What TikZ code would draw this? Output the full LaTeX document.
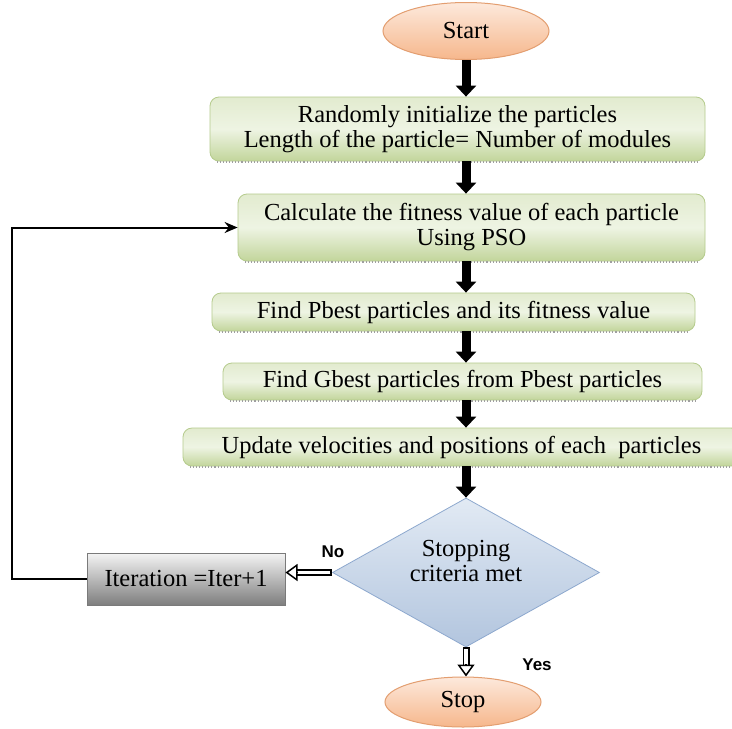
\documentclass[tikz,border=0pt]{standalone}
\usepackage{fontspec}
\setmainfont{Liberation Serif}
\newfontfamily\lsans{Liberation Sans}
\usetikzlibrary{shapes.geometric,arrows.meta,calc}
\definecolor{peachT}{HTML}{FDE9DC}
\definecolor{peachB}{HTML}{F6B78C}
\definecolor{peachD}{HTML}{E39E70}
\definecolor{grnT}{HTML}{E2EBCF}
\definecolor{grnM}{HTML}{EEF4E3}
\definecolor{grnB}{HTML}{C2D59B}
\definecolor{grnD}{HTML}{B5CB8C}
\definecolor{bluT}{HTML}{E2EAF4}
\definecolor{bluB}{HTML}{B2C5DE}
\definecolor{bluD}{HTML}{8DA8CE}
\definecolor{gryT}{HTML}{F4F4F4}
\definecolor{gryB}{HTML}{7E7E7E}
\definecolor{gryD}{HTML}{7A7A7A}
\tikzset{
  txt/.style={font=\fontsize{24.5}{25}\selectfont, align=center},
  oval/.style={ellipse, draw=peachD, line width=1pt, top color=peachT, bottom color=peachB, inner sep=0pt, txt},
  gbox/.style={rectangle, rounded corners=9pt, draw=grnD, line width=0.8pt, top color=grnT, bottom color=grnB, middle color=grnM, inner sep=0pt, txt},
  dec/.style={diamond, draw=bluD, line width=0.8pt, top color=bluT, bottom color=bluB, inner sep=0pt},
  ibox/.style={rectangle, draw=gryD, line width=1pt, top color=gryT, bottom color=gryB, inner sep=0pt, txt},
  blk/.style={line width=9pt, -{Triangle[width=20pt,length=11pt]}},
  thinarr/.style={line width=2pt, -{Stealth[length=13pt,width=11pt]}},
  lbl/.style={font=\lsans\bfseries\fontsize{17}{18}\selectfont},
  shad/.style={gray!75, dotted, line width=1.1pt}
}
\newcommand\hollowarr[2]{%
  \draw[line width=7pt, shorten >=11pt] (#1) -- (#2);
  \draw[line width=3.4pt, white, shorten >=10pt, shorten <=1.8pt] (#1) -- (#2);
  \draw[line width=1.5pt, -{Triangle[length=12pt,width=17pt,fill=white]}] ($(#2)!12.5pt!(#1)$) -- (#2);
}
\begin{document}
\begin{tikzpicture}[x=1pt,y=-1pt]
\useasboundingbox[fill=white] (0,0) rectangle (732,729);
% nodes
\node[oval, minimum width=166pt, minimum height=57pt] (start) at (466,31) {Start};
\node[gbox, minimum width=495pt, minimum height=64pt] (b1) at (457.5,129) {Randomly initialize the particles\\Length of the particle= Number of modules};
\node[gbox, minimum width=467pt, minimum height=67pt] (b2) at (471.5,227.5) {Calculate the fitness value of each particle\\Using PSO};
\node[gbox, minimum width=483pt, minimum height=38pt] (b3) at (453.5,312) {Find Pbest particles and its fitness value};
\node[gbox, minimum width=479pt, minimum height=37pt] (b4) at (462.5,381.5) {Find Gbest particles from Pbest particles};
\node[gbox, minimum width=557pt, minimum height=38pt] (b5) at (461.5,447) {Update velocities and positions of each\ \ particles};
\node[dec, minimum width=267pt, minimum height=149pt] (d) at (466,572.5) {};
\node[txt] (dt) at (466,561) {Stopping\\criteria met};
\node[ibox, minimum width=198pt, minimum height=52pt] (it) at (186,579) {Iteration =Iter+1};
\node[oval, minimum width=156pt, minimum height=50pt] (stop) at (463,702) {Stop};
\node[lbl] (no) at (333,552) {No};
\node[lbl] (yes) at (537,665) {Yes};
% shadow lines
\foreach \b in {b1,b2,b3,b4,b5}{
  \draw[shad] ([xshift=7pt,yshift=-0.6pt]\b.south west) -- ([xshift=-7pt,yshift=-0.6pt]\b.south east);
}
% arrows
\draw[blk] (start.south) -- (b1.north -| start.south);
\draw[blk] (b1.south -| start.south) -- (b2.north -| start.south);
\draw[blk] (b2.south -| start.south) -- (b3.north -| start.south);
\draw[blk] (b3.south -| start.south) -- (b4.north -| start.south);
\draw[blk] (b4.south -| start.south) -- (b5.north -| start.south);
\draw[blk] (b5.south -| start.south) -- (d.north -| start.south);
\coordinate (noEnd) at (d.west -| it.east);
\hollowarr{d.west}{noEnd}
\coordinate (yesEnd) at (d.south |- stop.north);
\hollowarr{d.south}{yesEnd}
\draw[thinarr] (it.west) -- ++(-75,0) |- (b2.west);
\end{tikzpicture}
\end{document}
